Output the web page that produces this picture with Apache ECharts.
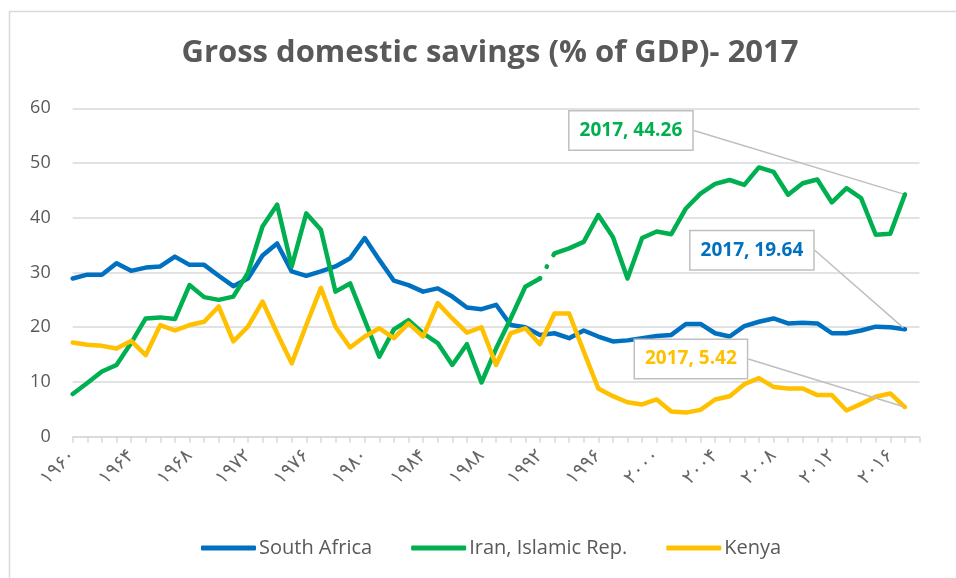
<!DOCTYPE html>
<html>
<head>
<meta charset="utf-8">
<script src="https://cdn.jsdelivr.net/npm/echarts@6/dist/echarts.min.js"></script>
<style>
html,body{margin:0;padding:0;background:#fff;}
#c{width:956px;height:578px;}
</style>
</head>
<body>
<div id="c"></div>
<script>
// ---- data ----
const titleText = 'Gross domestic savings (% of GDP)- 2017';
const categories = [1960,1961,1962,1963,1964,1965,1966,1967,1968,1969,1970,1971,1972,1973,1974,1975,1976,1977,1978,1979,
  1980,1981,1982,1983,1984,1985,1986,1987,1988,1989,1990,1991,1992,1993,1994,1995,1996,1997,1998,1999,
  2000,2001,2002,2003,2004,2005,2006,2007,2008,2009,2010,2011,2012,2013,2014,2015,2016,2017,2018];
const yTicks = [0,10,20,30,40,50,60];
const seriesNames = ['South Africa','Iran, Islamic Rep.','Kenya'];
const southAfrica = [28.9,29.6,29.6,31.7,30.3,30.9,31.1,32.9,31.4,31.4,29.4,27.5,28.9,33.1,35.3,30.2,29.4,30.2,31.1,32.6,
  36.3,32.3,28.5,27.7,26.5,27.1,25.6,23.6,23.3,24.1,20.4,20.0,18.6,18.9,18.0,19.4,18.3,17.4,17.6,18.0,
  18.4,18.6,20.6,20.6,18.9,18.3,20.2,21.0,21.6,20.7,20.8,20.7,18.9,18.9,19.4,20.1,20.0,19.64];
const iran = [7.8,9.8,11.9,13.1,17.1,21.6,21.8,21.5,27.7,25.5,25.0,25.6,29.9,38.4,42.4,31.1,40.8,37.8,26.5,28.0,
  21.3,14.6,19.6,21.3,18.9,17.1,13.1,16.9,9.9,16.1,21.6,27.4,28.9,33.5,34.4,35.6,40.5,36.5,28.9,36.3,
  37.5,37.0,41.7,44.4,46.2,46.9,46.0,49.2,48.4,44.2,46.3,47.0,42.8,45.4,43.6,36.9,37.1,44.26];
const kenya = [17.2,16.8,16.6,16.1,17.5,14.9,20.4,19.4,20.4,21.0,23.8,17.4,20.1,24.7,18.9,13.4,20.4,27.2,20.1,16.3,
  18.3,19.8,18.0,20.7,18.3,24.4,21.6,19.0,20.0,13.1,18.9,19.8,16.9,22.5,22.5,15.6,8.8,7.4,6.3,5.9,
  6.8,4.6,4.4,4.9,6.8,7.4,9.6,10.7,9.1,8.8,8.8,7.6,7.6,4.8,6.0,7.3,7.9,5.42];
const iranDottedYears = [1992, 1993]; // segment drawn as round dots
const calloutYear = 2017;

// ---- styling ----
const colors = {sa:'#0070C0', ir:'#00B050', ke:'#FFC000', text:'#595959', grid:'#d9d9d9', callout:'#bfbfbf'};
const LW = 4.5;
const persian = s => String(s).replace(/[0-9]/g, d => '۰۱۲۳۴۵۶۷۸۹'[+d]);

const dotFrom = categories.indexOf(iranDottedYears[0]);
const dotTo = categories.indexOf(iranDottedYears[1]);
const lastIdx = categories.indexOf(calloutYear);

function withCallout(values, color, keep) {
  return categories.map((c, i) => {
    const v = i < values.length ? values[i] : null;
    if (keep && !keep(i)) return null;
    if (i === lastIdx) {
      return {
        value: v,
        symbol: 'circle', symbolSize: 4,
        itemStyle: {color: color},
        label: {
          show: true,
          formatter: calloutYear + ', ' + v.toFixed(2),
          position: 'inside',
          color: color,
          fontFamily: 'Open Sans',
          fontWeight: 'bold',
          fontSize: 19,
          lineHeight: 22,
          backgroundColor: '#ffffff',
          borderColor: colors.callout,
          borderWidth: 1.5,
          padding: [8, 10, 8, 10]
        }
      };
    }
    return v;
  });
}

const calloutOffsets = {
  'South Africa': [-153, -79],
  'Iran B': [-274, -64],
  'Kenya': [-214, -48]
};

function baseLine(name, color, data, z) {
  return {
    name: name, type: 'line', data: data, z: z,
    symbol: 'circle', symbolSize: 0, showSymbol: true, showAllSymbol: true,
    connectNulls: false, silent: true,
    itemStyle: {color: color},
    lineStyle: {color: color, width: LW, cap: 'round', join: 'round'},
    label: {show: false},
    labelLine: {show: true, lineStyle: {color: colors.callout, width: 1.5}},
    labelLayout: function (p) {
      const o = calloutOffsets[name];
      if (o && p.dataIndex === lastIdx) return {dx: o[0], dy: o[1]};
      return {};
    },
    emphasis: {disabled: true},
    animation: false
  };
}

const chart = echarts.init(document.getElementById('c'), null, {renderer: 'canvas'});
chart.setOption({
  backgroundColor: '#ffffff',
  animation: false,
  title: {
    text: titleText,
    left: 485, top: 33, textAlign: 'center',
    textStyle: {fontFamily: 'Open Sans', fontWeight: 'bold', fontSize: 31, color: colors.text}
  },
  graphic: [{
    type: 'rect', left: 7, top: 9, silent: true,
    shape: {width: 980, height: 600},
    style: {fill: 'none', stroke: colors.grid, lineWidth: 1.5}
  }],
  legend: {
    data: seriesNames.map(n => ({name: n, icon: 'roundRect'})),
    left: 196, top: 533,
    itemWidth: 55, itemHeight: 5, itemGap: 39,
    textStyle: {fontFamily: 'Open Sans', fontSize: 20, color: colors.text, padding: [0,0,0,-2]},
    selectedMode: false
  },
  grid: {left: 72.7, right: 36.5, top: 108.3, bottom: 141.3, containLabel: false},
  xAxis: {
    type: 'category', data: categories, boundaryGap: false,
    axisLine: {show: true, lineStyle: {color: colors.grid, width: 1.5}},
    axisTick: {show: true, interval: 0, length: 6, lineStyle: {color: colors.grid, width: 1.5}},
    axisLabel: {
      interval: 3, rotate: 45, margin: 16,
      formatter: v => persian(v),
      fontFamily: 'DejaVu Sans', fontSize: 19, color: '#666666'
    },
    splitLine: {show: false}
  },
  yAxis: {
    type: 'value', min: yTicks[0], max: yTicks[yTicks.length - 1], interval: yTicks[1] - yTicks[0],
    axisLine: {show: false}, axisTick: {show: false},
    axisLabel: {margin: 22, fontFamily: 'Open Sans', fontSize: 18, color: colors.text},
    splitLine: {lineStyle: {color: colors.grid, width: 1.5}}
  },
  series: [
    baseLine('South Africa', colors.sa, withCallout(southAfrica, colors.sa), 2),
    baseLine('Iran, Islamic Rep.', colors.ir, withCallout(iran, colors.ir, i => i <= dotFrom), 3),
    Object.assign(baseLine('Iran dotted', colors.ir, withCallout(iran, colors.ir, i => i >= dotFrom && i <= dotTo), 3), {
      lineStyle: {color: colors.ir, width: LW, cap: 'round', join: 'round', type: [0.5, 13]}
    }),
    baseLine('Iran B', colors.ir, withCallout(iran, colors.ir, i => i >= dotTo), 3),
    baseLine('Kenya', colors.ke, withCallout(kenya, colors.ke), 4)
  ]
});
</script>
</body>
</html>
